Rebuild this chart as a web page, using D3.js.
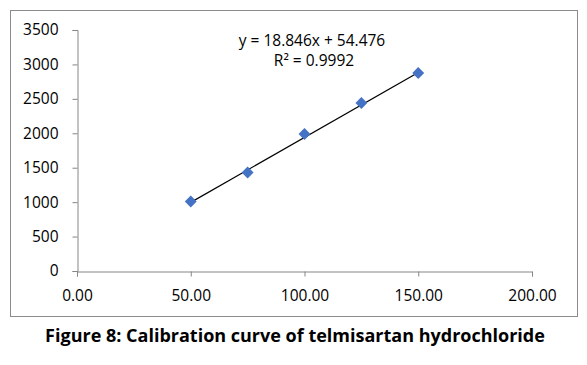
<!DOCTYPE html>
<html><head><meta charset="utf-8">
<script src="https://cdn.jsdelivr.net/npm/d3@7"></script>
<style>body{margin:0;background:#fff}svg{display:block}</style>
</head><body>
<svg id="c" width="587" height="365"></svg>
<script>
const concentrations = [50, 75, 100, 125, 150];
const responses = [1010, 1430, 1990, 2440, 2875];
const slope = 18.846, intercept = 54.476;
const xTicks = [0, 50, 100, 150, 200];
const yTicks = [0, 500, 1000, 1500, 2000, 2500, 3000, 3500];
const equationText = "y = 18.846x + 54.476";
const r2Text = "R² = 0.9992";
const captionText = "Figure 8: Calibration curve of telmisartan hydrochloride";

const svg = d3.select("#c");
const font = "'Open Sans', 'Noto Sans', sans-serif";
svg.append("rect").attr("x",10.5).attr("y",10.5).attr("width",567).attr("height",306)
  .attr("fill","#fff").attr("stroke","#8c8c8c").attr("stroke-width",1);

const x = d3.scaleLinear().domain([0,200]).range([77,532]);
const y = d3.scaleLinear().domain([0,3500]).range([271,30]);

const ya = svg.append("g").attr("transform","translate(77.5,0)")
  .call(d3.axisLeft(y).tickValues(yTicks).tickSize(5).tickPadding(14).tickFormat(d3.format("d")));
const xa = svg.append("g").attr("transform","translate(0,271.5)")
  .call(d3.axisBottom(x).tickValues(xTicks).tickSize(5).tickPadding(13).tickFormat(d3.format(".2f")));
[ya,xa].forEach(a=>{
  a.selectAll("path,line").attr("stroke","#868686");
  a.selectAll("text").attr("font-family",font).attr("font-size",15.5).attr("fill","#000");
});

svg.append("line")
  .attr("x1",x(50)).attr("y1",y(slope*50+intercept))
  .attr("x2",x(150)).attr("y2",y(slope*150+intercept))
  .attr("stroke","#000").attr("stroke-width",1.2);

svg.selectAll("path.pt").data(concentrations).enter().append("path")
  .attr("class","pt")
  .attr("d",d3.symbol().type(d3.symbolDiamond2).size(90))
  .attr("transform",(d,i)=>`translate(${x(d)},${y(responses[i])})`)
  .attr("fill","#4472c4");

svg.append("text").attr("x",312).attr("y",46).attr("text-anchor","middle")
  .attr("font-family",font).attr("font-size",15.5).text(equationText);
svg.append("text").attr("x",314).attr("y",66).attr("text-anchor","middle")
  .attr("font-family",font).attr("font-size",15.5).text(r2Text);

svg.append("text").attr("x",295).attr("y",342).attr("text-anchor","middle")
  .attr("font-family",font).attr("font-weight","bold").attr("font-size",18).text(captionText);
</script>
</body></html>
